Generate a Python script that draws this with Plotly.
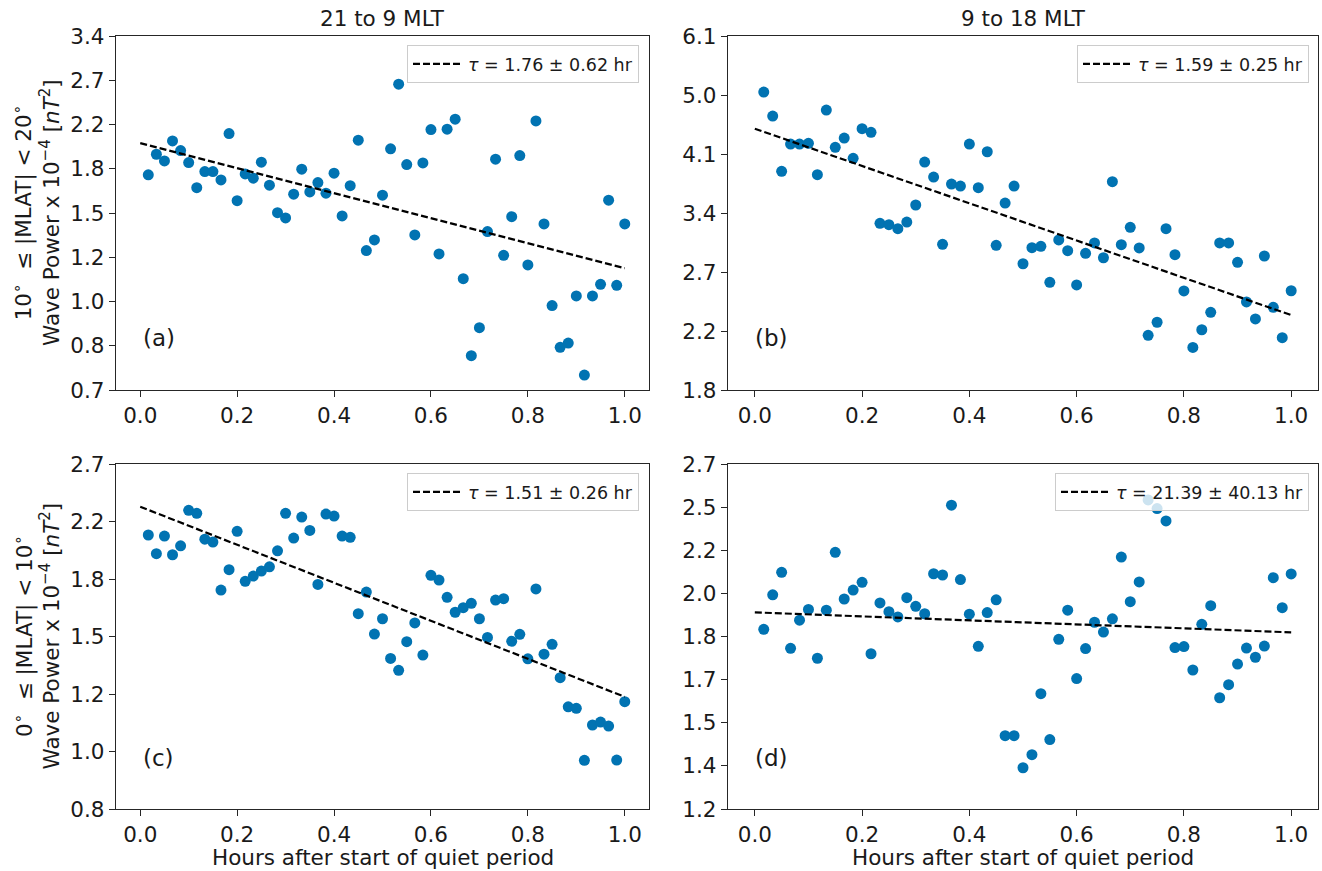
import numpy as np
import plotly.graph_objects as go

# ---------------- data ----------------
minutes = [1, 2, 3, 4, 5, 6, 7, 8, 9, 10, 11, 12, 13, 14, 15, 16, 17, 18, 19, 20,
           21, 22, 23, 24, 25, 26, 27, 28, 29, 30, 31, 32, 33, 34, 35, 36, 37, 38, 39, 40,
           41, 42, 43, 44, 45, 46, 47, 48, 49, 50, 51, 52, 53, 54, 55, 56, 57, 58, 59, 60]

power_a = [1.776, 1.952, 1.893, 2.075, 1.985, 1.879, 1.675, 1.803, 1.803, 1.735,
           2.146, 1.578, 1.784, 1.749, 1.882, 1.694, 1.493, 1.458, 1.625, 1.823,
           1.642, 1.714, 1.633, 1.790, 1.471, 1.690, 2.082, 1.255, 1.318, 1.618,
           2.001, 2.692, 1.862, 1.348, 1.876, 2.186, 1.236, 2.190, 2.293, 1.103,
           0.775, 0.881, 1.369, 1.908, 1.228, 1.466, 1.940, 1.175, 2.275, 1.418,
           0.975, 0.805, 0.821, 1.019, 0.709, 1.019, 1.075, 1.581, 1.070, 1.418]
power_b = [5.053, 4.658, 3.862, 4.236, 4.236, 4.246, 3.818, 4.754, 4.189, 4.323,
           4.036, 4.462, 4.408, 3.238, 3.223, 3.179, 3.252, 3.445, 3.985, 3.788,
           3.015, 3.699, 3.674, 4.236, 3.653, 4.127, 3.005, 3.468, 3.674, 2.823,
           2.981, 2.995, 2.651, 3.060, 2.951, 2.627, 2.925, 3.029, 2.881, 3.728,
           3.011, 3.194, 2.978, 2.215, 2.315, 3.179, 2.911, 2.574, 2.126, 2.257,
           2.394, 3.029, 3.029, 2.837, 2.480, 2.341, 2.898, 2.435, 2.197, 2.576]
power_c = [2.109, 1.976, 2.101, 1.969, 2.031, 2.298, 2.274, 2.079, 2.058, 1.741,
           1.869, 2.136, 1.795, 1.828, 1.860, 1.888, 1.996, 2.274, 2.087, 2.245,
           2.143, 1.776, 2.268, 2.253, 2.101, 2.092, 1.604, 1.729, 1.494, 1.576,
           1.373, 1.317, 1.455, 1.553, 1.389, 1.833, 1.803, 1.698, 1.612, 1.638,
           1.663, 1.576, 1.477, 1.682, 1.690, 1.457, 1.493, 1.371, 1.748, 1.393,
           1.442, 1.284, 1.160, 1.154, 0.963, 1.089, 1.100, 1.085, 0.964, 1.181]
power_d = [1.867, 2.019, 2.125, 1.788, 1.906, 1.953, 1.748, 1.950, 2.224, 2.000,
           2.041, 2.077, 1.766, 1.982, 1.943, 1.920, 2.006, 1.967, 1.934, 2.118,
           2.112, 2.475, 2.090, 1.932, 1.796, 1.939, 1.996, 1.466, 1.466, 1.363,
           1.404, 1.613, 1.453, 1.825, 1.950, 1.669, 1.787, 1.897, 1.855, 1.912,
           2.200, 1.988, 2.079, 2.505, 2.456, 2.388, 1.791, 1.795, 1.702, 1.888,
           1.970, 1.598, 1.646, 1.725, 1.789, 1.752, 1.797, 2.099, 1.961, 2.117]

fit_hours = [0.0, 1.0]
fit_a = [2.054, 1.157]
fit_b = [4.462, 2.372]
fit_c = [2.327, 1.201]
fit_d = [1.940, 1.854]

tau_labels = ["<i>τ</i> = 1.76 ± 0.62 hr", "<i>τ</i> = 1.59 ± 0.25 hr",
              "<i>τ</i> = 1.51 ± 0.26 hr", "<i>τ</i> = 21.39 ± 40.13 hr"]

ylim_a = (0.662, 3.358)
ylim_b = (1.840, 6.11)
ylim_c = (0.813, 2.70)
ylim_d = (1.241, 2.718)
yticks_a = ["0.7", "0.8", "1.0", "1.2", "1.5", "1.8", "2.2", "2.7", "3.4"]
yticks_b = ["1.8", "2.2", "2.7", "3.4", "4.1", "5.0", "6.1"]
yticks_c = ["0.8", "1.0", "1.2", "1.5", "1.8", "2.2", "2.7"]
yticks_d = ["1.2", "1.4", "1.5", "1.7", "1.8", "2.0", "2.2", "2.5", "2.7"]

xtick_vals = [0.0, 0.2, 0.4, 0.6, 0.8, 1.0]
xtick_text = ["0.0", "0.2", "0.4", "0.6", "0.8", "1.0"]

col_titles = ["21 to 9 MLT", "9 to 18 MLT"]
panel_labels = ["(a)", "(b)", "(c)", "(d)"]
row_ylabels = [
    "10<sup>∘</sup>  ≤ |MLAT| < 20<sup>∘</sup><br>Wave Power x 10<sup>−4</sup> [<i>nT</i><sup>2</sup>]",
    "0<sup>∘</sup>  ≤ |MLAT| < 10<sup>∘</sup><br>Wave Power x 10<sup>−4</sup> [<i>nT</i><sup>2</sup>]",
]
xlabel = "Hours after start of quiet period"

# ---------------- figure ----------------
W, H = 1322, 871
hours = [m / 60 for m in minutes]
dot_color = "#0173B2"
axcol = "#262626"
txtcol = "#1a1a1a"
FS = 21.5

# pixel boxes of the four panels (left, right, top, bottom)
boxes = [(116, 649, 36, 390), (728, 1318, 36, 390),
         (116, 649, 464, 809), (728, 1318, 464, 809)]
powers = [power_a, power_b, power_c, power_d]
fits = [fit_a, fit_b, fit_c, fit_d]
ylims = [ylim_a, ylim_b, ylim_c, ylim_d]
yticks = [yticks_a, yticks_b, yticks_c, yticks_d]

fig = go.Figure()
layout = {}
annotations = []
for i in range(4):
    sfx = "" if i == 0 else str(i + 1)
    xa, ya = "x" + sfx, "y" + sfx
    leg = "legend" + sfx
    fig.add_trace(go.Scatter(x=hours, y=powers[i], mode="markers", xaxis=xa, yaxis=ya,
                             marker=dict(color=dot_color, size=11, line=dict(width=0)),
                             showlegend=False))
    fig.add_trace(go.Scatter(x=fit_hours, y=fits[i], mode="lines", xaxis=xa, yaxis=ya,
                             line=dict(color="black", width=2.2, dash="7px,3px"),
                             name=tau_labels[i], legend=leg, showlegend=True))
    l, r, t, b = boxes[i]
    lo, hi = ylims[i]
    common = dict(showline=True, mirror=True, linecolor=axcol, linewidth=1.3,
                  ticks="outside", ticklen=6, tickwidth=1.3, tickcolor=axcol,
                  showgrid=False, zeroline=False, automargin=False,
                  tickfont=dict(size=FS, family="DejaVu Sans", color=txtcol))
    layout["xaxis" + sfx] = dict(domain=[l / W, r / W], anchor=ya, range=[-0.05, 1.05],
                                 tickvals=xtick_vals, ticktext=xtick_text, **common)
    layout["yaxis" + sfx] = dict(domain=[(H - b) / H, (H - t) / H], anchor=xa, type="log",
                                 range=[np.log10(lo), np.log10(hi)],
                                 tickvals=list(np.geomspace(lo, hi, len(yticks[i]))),
                                 ticktext=yticks[i], **common)
    legx = (639 if i % 2 == 0 else 1309) / W
    legy = (H - (45 if i < 2 else 473)) / H
    layout[leg] = dict(x=legx, y=legy, xanchor="right", yanchor="top",
                       bgcolor="rgba(255,255,255,0.8)", bordercolor="#cccccc", borderwidth=1,
                       font=dict(size=17.5, family="DejaVu Sans", color=txtcol),
                       itemwidth=50)
    # panel label
    annotations.append(dict(text=panel_labels[i], xref="paper", yref="paper",
                            x=(l + 25) / W, y=(H - (338 if i < 2 else 758)) / H,
                            xanchor="left", yanchor="middle", showarrow=False,
                            font=dict(size=23, family="DejaVu Sans", color=txtcol)))

for j, t in enumerate(col_titles):
    l, r, _, _ = boxes[j]
    annotations.append(dict(text=t, xref="paper", yref="paper", x=(l + r) / 2 / W,
                            y=(H - 18) / H, xanchor="center", yanchor="middle",
                            showarrow=False,
                            font=dict(size=FS, family="DejaVu Sans", color=txtcol)))
    annotations.append(dict(text=xlabel, xref="paper", yref="paper",
                            x=(boxes[j + 2][0] + boxes[j + 2][1]) / 2 / W,
                            y=(H - 857) / H, xanchor="center", yanchor="middle",
                            showarrow=False,
                            font=dict(size=FS, family="DejaVu Sans", color=txtcol)))
for j, t in enumerate(row_ylabels):
    _, _, tt, bb = boxes[2 * j]
    annotations.append(dict(text=t, xref="paper", yref="paper", x=36 / W,
                            y=(H - (tt + bb) / 2) / H, xanchor="center", yanchor="middle",
                            textangle=-90, showarrow=False,
                            font=dict(size=FS, family="DejaVu Sans", color=txtcol)))

fig.update_layout(width=W, height=H, margin=dict(l=0, r=0, t=0, b=0, autoexpand=False),
                  plot_bgcolor="white", paper_bgcolor="white",
                  font=dict(family="DejaVu Sans", size=FS, color=txtcol),
                  annotations=annotations, **layout)

fig.write_html("out.html", config={"displayModeBar": False},
               post_script="document.body.style.margin='0px';document.body.style.overflow='hidden';")
